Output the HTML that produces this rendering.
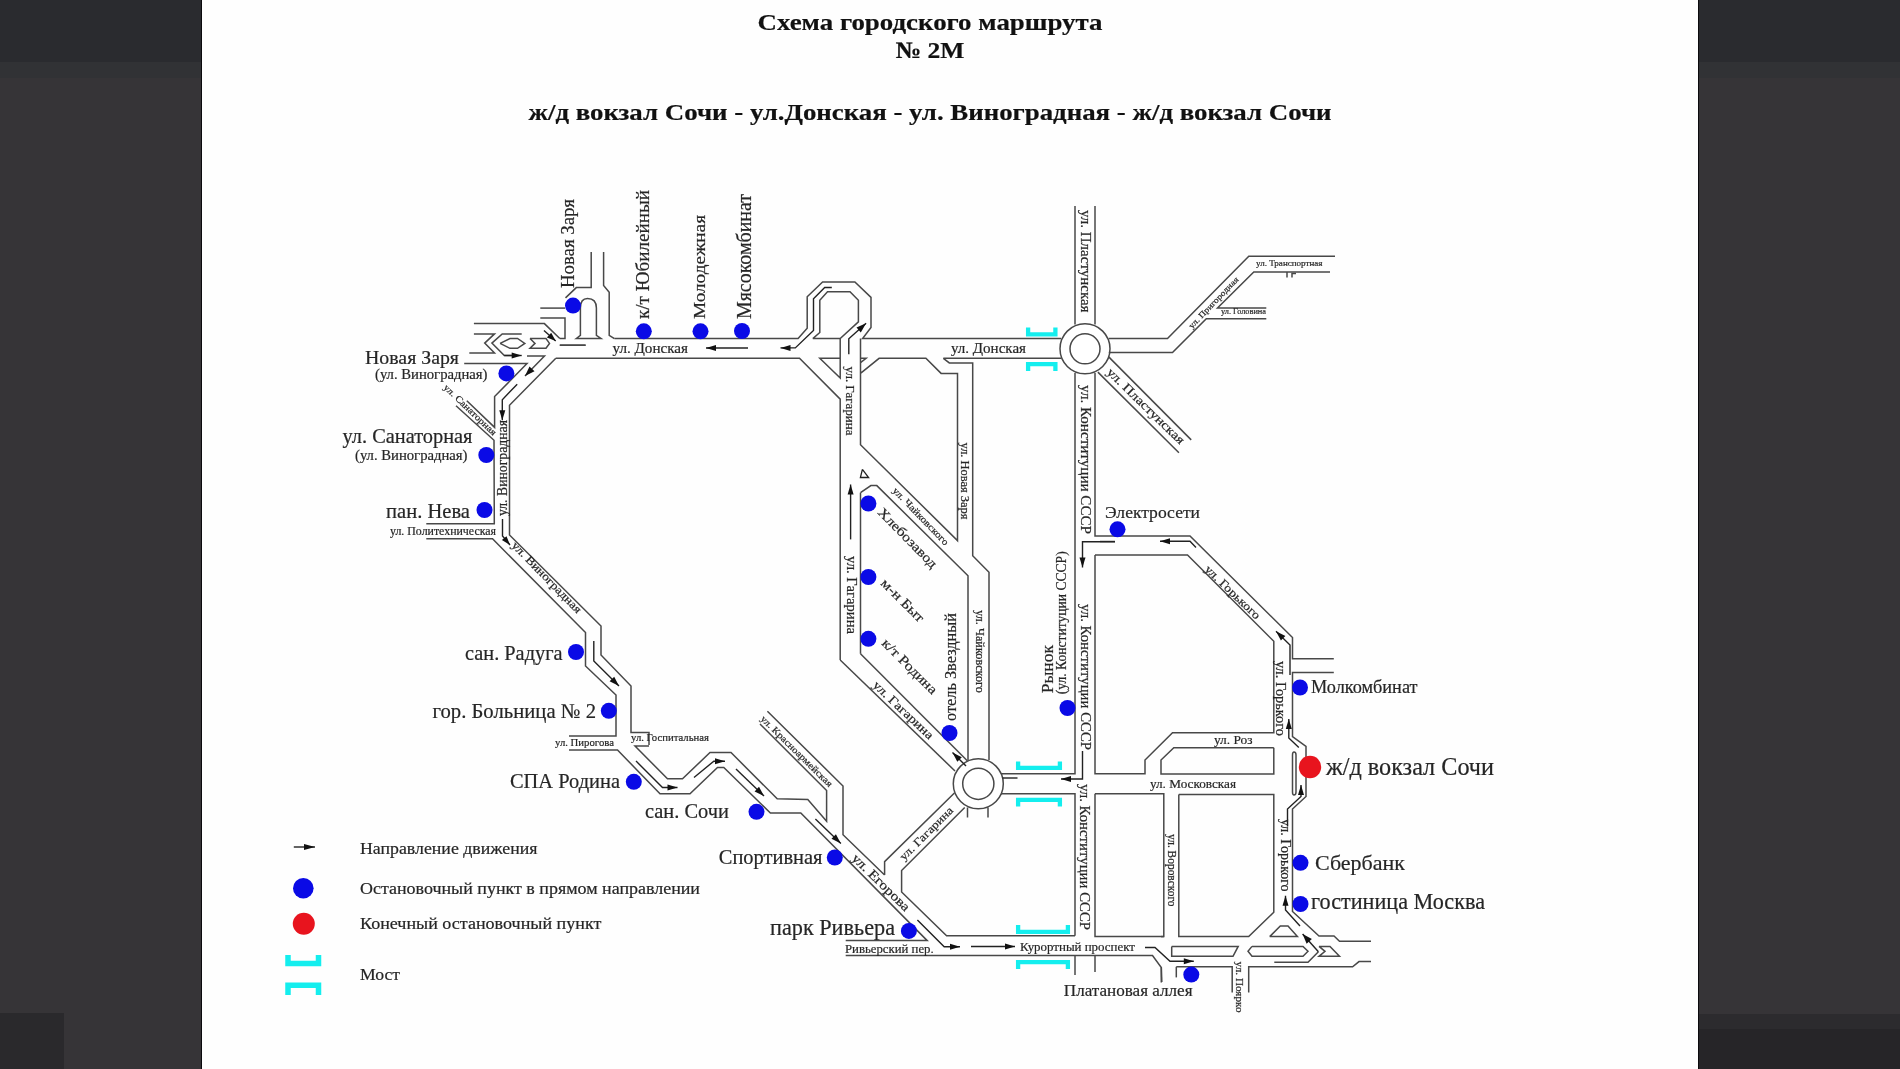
<!DOCTYPE html>
<html><head><meta charset="utf-8"><style>
html,body{margin:0;padding:0;width:1900px;height:1069px;overflow:hidden;background:#fff}
svg{position:absolute;left:0;top:0;filter:blur(0.4px)}
</style></head><body>
<svg width="1900" height="1069" viewBox="0 0 1900 1069">
<rect x="0" y="0" width="1900" height="1069" fill="#fefefe"/>
<rect x="0" y="0" width="201" height="1069" fill="#363437"/>
<rect x="0" y="0" width="201" height="62" fill="#2a2b2f"/>
<rect x="0" y="62" width="201" height="16" fill="#313235"/>
<rect x="1699" y="0" width="201" height="1069" fill="#363437"/>
<rect x="1699" y="0" width="201" height="62" fill="#2a2b2f"/>
<rect x="1699" y="62" width="201" height="16" fill="#313235"/>
<rect x="1699" y="1014" width="201" height="15" fill="#2c2b2e"/>
<rect x="1699" y="1029" width="201" height="40" fill="#262528"/>
<rect x="0" y="1013" width="64" height="56" fill="#2a292c"/>
<rect x="201" y="0" width="1" height="1069" fill="#0b0a0d"/>
<rect x="1698" y="0" width="1" height="1069" fill="#0b0a0d"/>
<text x="930" y="30" font-family="Liberation Serif, serif" font-size="23.5" font-weight="bold" fill="#111" text-anchor="middle" textLength="345" lengthAdjust="spacingAndGlyphs" stroke="#111" stroke-width="0.2">Схема городского маршрута</text>
<text x="930" y="58.4" font-family="Liberation Serif, serif" font-size="23.5" font-weight="bold" fill="#111" text-anchor="middle" textLength="69" lengthAdjust="spacingAndGlyphs" stroke="#111" stroke-width="0.2">№ 2М</text>
<text x="930" y="120" font-family="Liberation Serif, serif" font-size="23.5" font-weight="bold" fill="#111" text-anchor="middle" textLength="803" lengthAdjust="spacingAndGlyphs" stroke="#111" stroke-width="0.2">ж/д вокзал Сочи - ул.Донская - ул. Виноградная - ж/д вокзал Сочи</text>
<path d="M614.4 338.6 L798.1 338.6 L807.2 328.2 L807.2 296.7 L822.6 281.9 L854.9 281.9 L871.0 297.4 L871.0 327.5 L862.6 338.6 L1061.0 338.6" fill="none" stroke="#484848" stroke-width="1.5" stroke-linejoin="miter" />
<path d="M812.8 338.6 L819.8 332.5 L819.8 300.2 L827.5 291.8 L850.0 291.8 L858.4 300.2 L858.4 321.9 L840.2 338.6 L812.8 338.6" fill="none" stroke="#484848" stroke-width="1.5" stroke-linejoin="miter" />
<path d="M555.8 358.3 L799.5 358.3 L840.2 399.1 L840.2 660.0" fill="none" stroke="#484848" stroke-width="1.5" stroke-linejoin="miter" />
<path d="M840.2 358.3 L819.8 358.3 L840.2 378.0 L840.2 338.6" fill="none" stroke="#484848" stroke-width="1.5" stroke-linejoin="miter" />
<path d="M860.5 338.6 L860.5 373.4 L860.5 444.7 L957.5 540.6 L957.5 373.4 L941.1 373.4 L925.9 358.3 L879.1 358.3 L860.5 373.4" fill="none" stroke="#484848" stroke-width="1.5" stroke-linejoin="miter" />
<path d="M860.5 358.3 L866.1 358.3 L860.5 362.6" fill="none" stroke="#484848" stroke-width="1.5" stroke-linejoin="miter" />
<path d="M943.4 358.3 L949.3 362.9 L972.7 362.9 L972.7 555.8 L989.0 572.2 L989.0 760.0" fill="none" stroke="#484848" stroke-width="1.5" stroke-linejoin="miter" />
<path d="M943.4 358.3 L1061.0 358.3" fill="none" stroke="#484848" stroke-width="1.5" stroke-linejoin="miter" />
<path d="M591.2 252.0 L591.2 287.6 L576.3 287.6 L565.5 297.9" fill="none" stroke="#484848" stroke-width="1.5" stroke-linejoin="miter" />
<path d="M603.6 252.0 L603.6 285.5 L609.2 292.2 L609.2 335.4 L614.4 338.6" fill="none" stroke="#484848" stroke-width="1.5" stroke-linejoin="miter" />
<path d="M576.3 338.5 L580.4 335.4 L580.4 308 Q580.4 298.4 587.5 298.4 Q596.4 298.4 596.4 308 L596.4 335.4 L601 338.5 Z" fill="none" stroke="#484848" stroke-width="1.5" stroke-linejoin="miter" />
<path d="M540.3 308.1 L565.0 308.1" fill="none" stroke="#484848" stroke-width="1.5" stroke-linejoin="miter" />
<path d="M540.3 317.9 L565.0 317.9 L565.0 338.5 L559.8 338.5" fill="none" stroke="#484848" stroke-width="1.5" stroke-linejoin="miter" />
<path d="M473.9 323.6 L544.4 323.6 L559.8 338.5" fill="none" stroke="#484848" stroke-width="1.5" stroke-linejoin="miter" />
<path d="M559.8 345.2 L585.6 345.2" fill="none" stroke="#484848" stroke-width="1.5" stroke-linejoin="miter" />
<path d="M473.9 333.9 L494.5 333.9 L484.7 343.1 L494.5 352.9 L469.3 352.9" fill="none" stroke="#484848" stroke-width="1.5" stroke-linejoin="miter" />
<path d="M521.7 333.9 L502.2 333.9 L491.9 343.1 L504.3 355.5 L512.0 355.5" fill="none" stroke="#484848" stroke-width="1.5" stroke-linejoin="miter" />
<path d="M500.1 343.4 L510.0 338.5 L517.5 338.5 L524.8 343.4 L517.5 348.3 L510.0 348.3 L500.1 343.4" fill="none" stroke="#484848" stroke-width="1.5" stroke-linejoin="miter" />
<path d="M530.0 338.5 L546.0 338.5 L549.5 343.4 L546.0 348.3 L530.0 348.3 L535.0 343.4 L530.0 338.5" fill="none" stroke="#484848" stroke-width="1.5" stroke-linejoin="miter" />
<path d="M527.0 356.0 L544.5 356.0 L525.0 376.0" fill="none" stroke="#484848" stroke-width="1.5" stroke-linejoin="miter" />
<path d="M555.8 358.3 L509.5 405.3 L509.5 535.0 L601.0 626.0 L601.0 655.0 L631.0 686.0 L631.0 732.5 L649.0 732.5 L649.0 745.0" fill="none" stroke="#484848" stroke-width="1.5" stroke-linejoin="miter" />
<path d="M464.2 363.5 L527.0 363.5 L494.6 396.6 L494.6 427.4 L466.8 400.7" fill="none" stroke="#484848" stroke-width="1.5" stroke-linejoin="miter" />
<path d="M456.0 405.8 L494.0 440.3 L494.3 523.8 L426.3 523.8" fill="none" stroke="#484848" stroke-width="1.5" stroke-linejoin="miter" />
<path d="M426.3 538.8 L492.5 538.8 L585.5 632.5 L585.5 666.0 L616.0 695.0 L616.0 736.0 L569.0 736.0" fill="none" stroke="#484848" stroke-width="1.5" stroke-linejoin="miter" />
<path d="M569.0 750.0 L617.5 750.0 L660.0 793.8 L690.0 793.8 L717.5 767.5 L723.8 767.5 L770.4 813.0 L800.8 813.0 L927.2 940.6 L845.7 940.6" fill="none" stroke="#484848" stroke-width="1.5" stroke-linejoin="miter" />
<path d="M649.0 746.0 L635.0 746.0 L667.5 778.8 L682.5 778.8 L710.0 752.5 L731.0 752.5 L777.2 798.8 L807.8 799.5 L826.6 821.2 L826.6 790.5 L760.0 724.0" fill="none" stroke="#484848" stroke-width="1.5" stroke-linejoin="miter" />
<path d="M767.4 711.2 L843.0 786.0 L843.0 834.7 L884.6 875.0" fill="none" stroke="#484848" stroke-width="1.5" stroke-linejoin="miter" />
<path d="M954.4 793.0 L884.6 861.6 L884.6 875.0" fill="none" stroke="#484848" stroke-width="1.5" stroke-linejoin="miter" />
<path d="M964.7 807.5 L901.6 870.5 L901.6 892.0 L946.6 935.8 L1075.0 935.8" fill="none" stroke="#484848" stroke-width="1.5" stroke-linejoin="miter" />
<path d="M845.7 955.5 L1152.5 955.5 L1161.3 967.5 L1161.3 982.5" fill="none" stroke="#484848" stroke-width="1.5" stroke-linejoin="miter" />
<path d="M840.2 660.0 L955.0 771.0" fill="none" stroke="#484848" stroke-width="1.5" stroke-linejoin="miter" />
<path d="M860.5 653.8 L967.5 761.0" fill="none" stroke="#484848" stroke-width="1.5" stroke-linejoin="miter" />
<path d="M860.5 492.7 L860.5 653.8" fill="none" stroke="#484848" stroke-width="1.5" stroke-linejoin="miter" />
<path d="M860.5 492.7 L870.9 485.6 L876.8 485.6 L968.0 575.7 L968.0 760.0" fill="none" stroke="#484848" stroke-width="1.5" stroke-linejoin="miter" />
<path d="M967.5 807.5 L967.5 817.5" fill="none" stroke="#484848" stroke-width="1.5" stroke-linejoin="miter" />
<path d="M988.0 807.5 L988.0 817.5" fill="none" stroke="#484848" stroke-width="1.5" stroke-linejoin="miter" />
<circle cx="1085" cy="348.8" r="25" fill="#fff" stroke="#484848" stroke-width="1.5"/>
<circle cx="1085" cy="348.8" r="15" fill="none" stroke="#484848" stroke-width="1.5"/>
<circle cx="978.3" cy="783.8" r="25" fill="#fff" stroke="#484848" stroke-width="1.5"/>
<circle cx="978.3" cy="783.8" r="15.6" fill="none" stroke="#484848" stroke-width="1.5"/>
<path d="M1075.0 206.0 L1075.0 324.5" fill="none" stroke="#484848" stroke-width="1.5" stroke-linejoin="miter" />
<path d="M1095.0 206.0 L1095.0 324.5" fill="none" stroke="#484848" stroke-width="1.5" stroke-linejoin="miter" />
<path d="M1075.0 373.0 L1075.0 773.8 L1001.0 773.8" fill="none" stroke="#484848" stroke-width="1.5" stroke-linejoin="miter" />
<path d="M1095.0 373.0 L1095.0 536.0 L1190.0 536.0 L1292.5 637.5 L1292.5 658.8 L1333.8 658.8" fill="none" stroke="#484848" stroke-width="1.5" stroke-linejoin="miter" />
<path d="M1095.0 555.0 L1187.5 555.0 L1273.8 641.3 L1273.8 732.7 L1172.5 732.7 L1145.0 760.0 L1145.0 773.8 L1095.0 773.8 L1095.0 555.0" fill="none" stroke="#484848" stroke-width="1.5" stroke-linejoin="miter" />
<path d="M1333.8 672.5 L1292.5 672.5 L1292.5 736.5 L1306.0 746.5 L1306.0 796.5 L1292.5 809.0 L1292.5 911.5 L1319.0 936.0 L1334.0 936.0 L1339.5 941.2 L1371.0 941.2" fill="none" stroke="#484848" stroke-width="1.5" stroke-linejoin="miter" />
<path d="M1273.8 747.7 L1173.8 747.7 L1161.0 760.0 L1161.0 774.0 L1273.8 774.0 L1273.8 747.7" fill="none" stroke="#484848" stroke-width="1.5" stroke-linejoin="miter" />
<path d="M1001.0 793.8 L1075.0 793.8 L1075.0 935.8" fill="none" stroke="#484848" stroke-width="1.5" stroke-linejoin="miter" />
<path d="M1095.0 793.8 L1163.8 793.8 L1163.8 936.6 L1095.0 936.6 L1095.0 793.8" fill="none" stroke="#484848" stroke-width="1.5" stroke-linejoin="miter" />
<path d="M1178.8 794.5 L1273.8 794.5 L1273.8 912.2 L1248.7 936.6 L1178.8 936.6 L1178.8 794.5" fill="none" stroke="#484848" stroke-width="1.5" stroke-linejoin="miter" />
<path d="M1075.0 955.5 L1075.0 975.0" fill="none" stroke="#484848" stroke-width="1.5" stroke-linejoin="miter" />
<path d="M1095.0 955.5 L1095.0 972.0" fill="none" stroke="#484848" stroke-width="1.5" stroke-linejoin="miter" />
<path d="M1292.5 755 Q1292.5 752 1294 752 Q1296 752 1296 755 L1296 792 Q1296 795 1294 795 Q1292.5 795 1292.5 792 Z" fill="none" stroke="#484848" stroke-width="1.5" stroke-linejoin="miter" />
<path d="M1108.8 338.5 L1167.5 338.5 L1248.8 256.3 L1335.0 256.3" fill="none" stroke="#484848" stroke-width="1.5" stroke-linejoin="miter" />
<path d="M1108.8 352.5 L1172.5 352.5 L1206.3 318.8 L1266.3 318.8" fill="none" stroke="#484848" stroke-width="1.5" stroke-linejoin="miter" />
<path d="M1266.3 308.0 L1217.5 308.0 L1253.8 272.0 L1330.0 272.0" fill="none" stroke="#484848" stroke-width="1.5" stroke-linejoin="miter" />
<path d="M1287.0 272.0 L1287.0 277.5" fill="none" stroke="#484848" stroke-width="1.5" stroke-linejoin="miter" />
<path d="M1292.0 277.5 L1292.0 273.5 L1296.0 273.5" fill="none" stroke="#484848" stroke-width="1.5" stroke-linejoin="miter" />
<path d="M1108.7 356.9 L1191.2 439.9" fill="none" stroke="#484848" stroke-width="1.5" stroke-linejoin="miter" />
<path d="M1097.9 372.1 L1178.9 452.7" fill="none" stroke="#484848" stroke-width="1.5" stroke-linejoin="miter" />
<path d="M1163.8 936.6 L1161.0 936.6" fill="none" stroke="#484848" stroke-width="1.5" stroke-linejoin="miter" />
<path d="M1171.7 946.4 L1238.2 946.4 L1233.0 956.3 L1171.7 956.3 L1171.7 946.4" fill="none" stroke="#484848" stroke-width="1.5" stroke-linejoin="miter" />
<path d="M1252.0 946.4 L1303.0 946.4 L1308.0 951.3 L1303.0 956.3 L1252.0 956.3 L1248.0 951.3 L1252.0 946.4" fill="none" stroke="#484848" stroke-width="1.5" stroke-linejoin="miter" />
<path d="M1319.0 946.4 L1330.0 946.4 L1339.5 956.3 L1319.0 956.3 L1325.0 951.3 L1319.0 946.4" fill="none" stroke="#484848" stroke-width="1.5" stroke-linejoin="miter" />
<path d="M1269.7 936.6 L1280.3 926.0 L1288.0 926.0 L1297.4 936.6 L1269.7 936.6" fill="none" stroke="#484848" stroke-width="1.5" stroke-linejoin="miter" />
<path d="M1274.3 962.2 L1308.0 962.2 L1318.4 951.7" fill="none" stroke="#484848" stroke-width="1.5" stroke-linejoin="miter" />
<path d="M1176.3 966.8 L1232.2 966.8 L1232.2 992.5" fill="none" stroke="#484848" stroke-width="1.5" stroke-linejoin="miter" />
<path d="M1248.7 992.5 L1248.7 966.8 L1352.6 966.8 L1359.0 961.6 L1371.0 961.6" fill="none" stroke="#484848" stroke-width="1.5" stroke-linejoin="miter" />
<path d="M1161.3 967.5 L1161.8 982.0" fill="none" stroke="#484848" stroke-width="1.5" stroke-linejoin="miter" />
<path d="M1176.3 966.8 L1176.3 977.4" fill="none" stroke="#484848" stroke-width="1.5" stroke-linejoin="miter" />
<path d="M293.8 847.0 L315.0 847.0" fill="none" stroke="#222" stroke-width="1.4" stroke-linejoin="miter" />
<path d="M315.0 847.0 L304.0 850.0 L304.0 844.0 Z" fill="#111"/>
<path d="M544.0 330.5 L555.7 341.1" fill="none" stroke="#222" stroke-width="1.4" stroke-linejoin="miter" />
<path d="M555.7 341.1 L546.9 337.4 L551.2 332.7 Z" fill="#111"/>
<path d="M504.3 355.5 L521.7 355.5" fill="none" stroke="#222" stroke-width="1.4" stroke-linejoin="miter" />
<path d="M521.7 355.5 L511.7 358.5 L511.7 352.5 Z" fill="#111"/>
<path d="M525.0 376.0 L529.5 366.4 L534.5 371.3 Z" fill="#111"/>
<path d="M517.2 384.2 L502.3 399.7 L502.3 420.2" fill="none" stroke="#222" stroke-width="1.4" stroke-linejoin="miter" />
<path d="M502.3 420.2 L499.3 410.2 L505.3 410.2 Z" fill="#111"/>
<path d="M502.5 519.0 L502.5 536.0 L510.0 545.0" fill="none" stroke="#222" stroke-width="1.4" stroke-linejoin="miter" />
<path d="M510.0 545.0 L501.9 540.0 L506.5 536.2 Z" fill="#111"/>
<path d="M593.8 641.0 L593.8 661.0 L619.0 686.0" fill="none" stroke="#222" stroke-width="1.4" stroke-linejoin="miter" />
<path d="M619.0 686.0 L609.6 681.2 L614.2 676.7 Z" fill="#111"/>
<path d="M636.0 761.0 L662.5 787.5 L677.5 787.5" fill="none" stroke="#222" stroke-width="1.4" stroke-linejoin="miter" />
<path d="M677.5 787.5 L667.5 790.5 L667.5 784.5 Z" fill="#111"/>
<path d="M694.0 777.5 L713.8 761.3 L725.0 761.3" fill="none" stroke="#222" stroke-width="1.4" stroke-linejoin="miter" />
<path d="M725.0 761.3 L715.0 764.3 L715.0 758.3 Z" fill="#111"/>
<path d="M736.0 769.0 L764.0 796.0" fill="none" stroke="#222" stroke-width="1.4" stroke-linejoin="miter" />
<path d="M764.0 796.0 L754.6 791.4 L759.0 786.8 Z" fill="#111"/>
<path d="M815.4 819.1 L840.9 843.4" fill="none" stroke="#222" stroke-width="1.4" stroke-linejoin="miter" />
<path d="M840.9 843.4 L831.5 838.8 L835.9 834.2 Z" fill="#111"/>
<path d="M917.4 920.0 L944.2 946.7 L960.0 946.7" fill="none" stroke="#222" stroke-width="1.4" stroke-linejoin="miter" />
<path d="M960.0 946.7 L950.0 949.7 L950.0 943.7 Z" fill="#111"/>
<path d="M971.0 946.5 L1015.0 946.5" fill="none" stroke="#222" stroke-width="1.4" stroke-linejoin="miter" />
<path d="M1015.0 946.5 L1005.0 949.5 L1005.0 943.5 Z" fill="#111"/>
<path d="M1145.0 947.5 L1155.0 947.5 L1170.0 961.3 L1193.8 961.3" fill="none" stroke="#222" stroke-width="1.4" stroke-linejoin="miter" />
<path d="M1193.8 961.3 L1183.8 964.3 L1183.8 958.3 Z" fill="#111"/>
<path d="M1318.4 951.7 L1302.6 934.0" fill="none" stroke="#222" stroke-width="1.4" stroke-linejoin="miter" />
<path d="M1302.6 934.0 L1311.9 939.1 L1306.6 943.8 Z" fill="#111"/>
<path d="M1300.0 926.0 L1285.5 910.0 L1285.5 895.8" fill="none" stroke="#222" stroke-width="1.4" stroke-linejoin="miter" />
<path d="M1285.5 895.8 L1288.5 905.8 L1282.5 905.8 Z" fill="#111"/>
<path d="M1287.5 826.5 L1287.5 809.0 L1301.0 796.5 L1301.0 785.0" fill="none" stroke="#222" stroke-width="1.4" stroke-linejoin="miter" />
<path d="M1301.0 785.0 L1304.0 795.0 L1298.0 795.0 Z" fill="#111"/>
<path d="M1298.8 747.5 L1288.8 738.0 L1288.8 719.0" fill="none" stroke="#222" stroke-width="1.4" stroke-linejoin="miter" />
<path d="M1288.8 719.0 L1291.8 729.0 L1285.8 729.0 Z" fill="#111"/>
<path d="M1290.0 675.0 L1290.0 645.0 L1276.0 631.3" fill="none" stroke="#222" stroke-width="1.4" stroke-linejoin="miter" />
<path d="M1276.0 631.3 L1285.4 636.0 L1280.9 640.6 Z" fill="#111"/>
<path d="M1196.0 547.5 L1190.0 541.3 L1160.0 541.3" fill="none" stroke="#222" stroke-width="1.4" stroke-linejoin="miter" />
<path d="M1160.0 541.3 L1170.0 538.3 L1170.0 544.3 Z" fill="#111"/>
<path d="M1100.0 541.5 L1115.0 541.5" fill="none" stroke="#222" stroke-width="1.4" stroke-linejoin="miter" />
<path d="M1115.0 541.8 L1082.5 541.8 L1082.5 567.5" fill="none" stroke="#222" stroke-width="1.4" stroke-linejoin="miter" />
<path d="M1082.5 567.5 L1079.5 557.5 L1085.5 557.5 Z" fill="#111"/>
<path d="M1082.5 751.0 L1082.5 779.0 L1061.0 779.0" fill="none" stroke="#222" stroke-width="1.4" stroke-linejoin="miter" />
<path d="M1061.0 779.0 L1071.0 776.0 L1071.0 782.0 Z" fill="#111"/>
<path d="M1002.5 778.0 L1017.5 778.0" fill="none" stroke="#222" stroke-width="1.4" stroke-linejoin="miter" />
<path d="M966.0 766.0 L952.5 752.5" fill="none" stroke="#222" stroke-width="1.4" stroke-linejoin="miter" />
<path d="M952.5 752.5 L961.8 757.3 L957.3 761.8 Z" fill="#111"/>
<path d="M850.6 539.4 L850.6 484.5" fill="none" stroke="#222" stroke-width="1.4" stroke-linejoin="miter" />
<path d="M850.6 484.5 L853.6 494.5 L847.6 494.5 Z" fill="#111"/>
<path d="M862.4 469.3 L868.6 477.5 L860.4 477.5 L862.4 469.3" fill="none" stroke="#222" stroke-width="1.3" stroke-linejoin="miter" />
<path d="M848.8 354.2 L848.8 338.8 L866.1 323.3" fill="none" stroke="#222" stroke-width="1.4" stroke-linejoin="miter" />
<path d="M866.1 323.3 L860.8 332.4 L856.5 327.6 Z" fill="#111"/>
<path d="M831.8 287.5 L824.7 287.5 L813.5 298.8 L813.5 330.4 L795.3 347.9 L780.5 347.9" fill="none" stroke="#222" stroke-width="1.4" stroke-linejoin="miter" />
<path d="M780.5 347.9 L790.5 344.9 L790.5 350.9 Z" fill="#111"/>
<path d="M748.0 348.0 L706.0 348.0" fill="none" stroke="#222" stroke-width="1.4" stroke-linejoin="miter" />
<path d="M706.0 348.0 L716.0 345.0 L716.0 351.0 Z" fill="#111"/>
<path d="M559.8 345.2 L585.6 345.2" fill="none" stroke="#484848" stroke-width="1.5" stroke-linejoin="miter" />
<circle cx="573" cy="305.6" r="8" fill="#0a0ae6"/>
<circle cx="643.8" cy="331.3" r="8" fill="#0a0ae6"/>
<circle cx="700.5" cy="331.3" r="8" fill="#0a0ae6"/>
<circle cx="742" cy="331" r="8" fill="#0a0ae6"/>
<circle cx="506.4" cy="373.4" r="8" fill="#0a0ae6"/>
<circle cx="486.3" cy="455" r="8" fill="#0a0ae6"/>
<circle cx="484.5" cy="510" r="8" fill="#0a0ae6"/>
<circle cx="576" cy="652" r="8" fill="#0a0ae6"/>
<circle cx="608.8" cy="710.8" r="8" fill="#0a0ae6"/>
<circle cx="633.8" cy="781.8" r="8" fill="#0a0ae6"/>
<circle cx="756.5" cy="811.8" r="8" fill="#0a0ae6"/>
<circle cx="834.8" cy="857.5" r="8" fill="#0a0ae6"/>
<circle cx="908.9" cy="930.9" r="8" fill="#0a0ae6"/>
<circle cx="868.4" cy="503.5" r="8" fill="#0a0ae6"/>
<circle cx="868.4" cy="577" r="8" fill="#0a0ae6"/>
<circle cx="868.4" cy="638.8" r="8" fill="#0a0ae6"/>
<circle cx="949.5" cy="733" r="8" fill="#0a0ae6"/>
<circle cx="1067.5" cy="708" r="8" fill="#0a0ae6"/>
<circle cx="1117.5" cy="529.3" r="8" fill="#0a0ae6"/>
<circle cx="1300" cy="687.5" r="8" fill="#0a0ae6"/>
<circle cx="1300.5" cy="862.8" r="8" fill="#0a0ae6"/>
<circle cx="1300.5" cy="904" r="8" fill="#0a0ae6"/>
<circle cx="1191.3" cy="974.6" r="8" fill="#0a0ae6"/>
<circle cx="303.3" cy="888.3" r="10.3" fill="#0a0ae6"/>
<circle cx="1310" cy="767" r="11.2" fill="#e8141e"/>
<circle cx="303.8" cy="923.8" r="11" fill="#e8141e"/>
<path d="M1028.1 327.5 L1028.1 334.3 L1055.4 334.3 L1055.4 327.5" fill="none" stroke="#14eeee" stroke-width="4.3"/>
<path d="M1028.1 371 L1028.1 364.2 L1055.4 364.2 L1055.4 371" fill="none" stroke="#14eeee" stroke-width="4.3"/>
<path d="M1018.1 761.5 L1018.1 767.8 L1059.9 767.8 L1059.9 761.5" fill="none" stroke="#14eeee" stroke-width="4.3"/>
<path d="M1018.1 806.6 L1018.1 799.8 L1059.9 799.8 L1059.9 806.6" fill="none" stroke="#14eeee" stroke-width="4.3"/>
<path d="M1018.1 925 L1018.1 931.8 L1067.9 931.8 L1067.9 925" fill="none" stroke="#14eeee" stroke-width="4.3"/>
<path d="M1018.1 969 L1018.1 962.2 L1067.9 962.2 L1067.9 969" fill="none" stroke="#14eeee" stroke-width="4.3"/>
<path d="M288 955 L288 963.5 L318.5 963.5 L318.5 955" fill="none" stroke="#14eeee" stroke-width="5.5"/>
<path d="M288 995 L288 985.3 L318.5 985.3 L318.5 995" fill="none" stroke="#14eeee" stroke-width="5.5"/>
<text x="365" y="364" font-family="Liberation Serif, serif" font-size="19.83" font-weight="normal" fill="#262626" text-anchor="start" textLength="94" lengthAdjust="spacingAndGlyphs" stroke="#262626" stroke-width="0.2">Новая Заря</text>
<text x="375" y="378.5" font-family="Liberation Serif, serif" font-size="14.69" font-weight="normal" fill="#262626" text-anchor="start" textLength="112.5" lengthAdjust="spacingAndGlyphs" stroke="#262626" stroke-width="0.2">(ул. Виноградная)</text>
<text x="342.5" y="443" font-family="Liberation Serif, serif" font-size="20.37" font-weight="normal" fill="#262626" text-anchor="start" textLength="130" lengthAdjust="spacingAndGlyphs" stroke="#262626" stroke-width="0.2">ул. Санаторная</text>
<text x="355" y="460" font-family="Liberation Serif, serif" font-size="14.69" font-weight="normal" fill="#262626" text-anchor="start" textLength="112.5" lengthAdjust="spacingAndGlyphs" stroke="#262626" stroke-width="0.2">(ул. Виноградная)</text>
<text x="386" y="517.5" font-family="Liberation Serif, serif" font-size="20.57" font-weight="normal" fill="#262626" text-anchor="start" textLength="84" lengthAdjust="spacingAndGlyphs" stroke="#262626" stroke-width="0.2">пан. Нева</text>
<text x="390" y="535" font-family="Liberation Serif, serif" font-size="11.87" font-weight="normal" fill="#262626" text-anchor="start" textLength="106" lengthAdjust="spacingAndGlyphs" stroke="#262626" stroke-width="0.2">ул. Политехническая</text>
<text x="465" y="659.5" font-family="Liberation Serif, serif" font-size="20.32" font-weight="normal" fill="#262626" text-anchor="start" textLength="97.5" lengthAdjust="spacingAndGlyphs" stroke="#262626" stroke-width="0.2">сан. Радуга</text>
<text x="432.5" y="718" font-family="Liberation Serif, serif" font-size="20.68" font-weight="normal" fill="#262626" text-anchor="start" textLength="163.5" lengthAdjust="spacingAndGlyphs" stroke="#262626" stroke-width="0.2">гор. Больница № 2</text>
<text x="555" y="746" font-family="Liberation Serif, serif" font-size="10.73" font-weight="normal" fill="#262626" text-anchor="start" textLength="59" lengthAdjust="spacingAndGlyphs" stroke="#262626" stroke-width="0.2">ул. Пирогова</text>
<text x="631" y="741" font-family="Liberation Serif, serif" font-size="10.71" font-weight="normal" fill="#262626" text-anchor="start" textLength="78" lengthAdjust="spacingAndGlyphs" stroke="#262626" stroke-width="0.2">ул. Госпитальная</text>
<text x="510" y="787.5" font-family="Liberation Serif, serif" font-size="20.42" font-weight="normal" fill="#262626" text-anchor="start" textLength="110" lengthAdjust="spacingAndGlyphs" stroke="#262626" stroke-width="0.2">СПА Родина</text>
<text x="645" y="817.5" font-family="Liberation Serif, serif" font-size="20.42" font-weight="normal" fill="#262626" text-anchor="start" textLength="84" lengthAdjust="spacingAndGlyphs" stroke="#262626" stroke-width="0.2">сан. Сочи</text>
<text x="718.8" y="863.8" font-family="Liberation Serif, serif" font-size="20.44" font-weight="normal" fill="#262626" text-anchor="start" textLength="103.7" lengthAdjust="spacingAndGlyphs" stroke="#262626" stroke-width="0.2">Спортивная</text>
<text x="770" y="935" font-family="Liberation Serif, serif" font-size="22.23" font-weight="normal" fill="#262626" text-anchor="start" textLength="125" lengthAdjust="spacingAndGlyphs" stroke="#262626" stroke-width="0.2">парк Ривьера</text>
<text x="845" y="952.5" font-family="Liberation Serif, serif" font-size="12.78" font-weight="normal" fill="#262626" text-anchor="start" textLength="88.7" lengthAdjust="spacingAndGlyphs" stroke="#262626" stroke-width="0.2">Ривьерский пер.</text>
<text x="1020" y="950.5" font-family="Liberation Serif, serif" font-size="12.92" font-weight="normal" fill="#262626" text-anchor="start" textLength="115" lengthAdjust="spacingAndGlyphs" stroke="#262626" stroke-width="0.2">Курортный проспект</text>
<text x="1063.8" y="996.3" font-family="Liberation Serif, serif" font-size="17.08" font-weight="normal" fill="#262626" text-anchor="start" textLength="128.7" lengthAdjust="spacingAndGlyphs" stroke="#262626" stroke-width="0.2">Платановая аллея</text>
<text x="612.5" y="352.5" font-family="Liberation Serif, serif" font-size="15.13" font-weight="normal" fill="#262626" text-anchor="start" textLength="75.5" lengthAdjust="spacingAndGlyphs" stroke="#262626" stroke-width="0.2">ул. Донская</text>
<text x="951" y="352.5" font-family="Liberation Serif, serif" font-size="15.03" font-weight="normal" fill="#262626" text-anchor="start" textLength="75" lengthAdjust="spacingAndGlyphs" stroke="#262626" stroke-width="0.2">ул. Донская</text>
<text x="1105" y="517.5" font-family="Liberation Serif, serif" font-size="17.56" font-weight="normal" fill="#262626" text-anchor="start" textLength="95" lengthAdjust="spacingAndGlyphs" stroke="#262626" stroke-width="0.2">Электросети</text>
<text x="1311" y="693.3" font-family="Liberation Serif, serif" font-size="18.26" font-weight="normal" fill="#262626" text-anchor="start" textLength="106.5" lengthAdjust="spacingAndGlyphs" stroke="#262626" stroke-width="0.2">Молкомбинат</text>
<text x="1214" y="744" font-family="Liberation Serif, serif" font-size="13.36" font-weight="normal" fill="#262626" text-anchor="start" textLength="38.5" lengthAdjust="spacingAndGlyphs" stroke="#262626" stroke-width="0.2">ул. Роз</text>
<text x="1150" y="788" font-family="Liberation Serif, serif" font-size="13.21" font-weight="normal" fill="#262626" text-anchor="start" textLength="86" lengthAdjust="spacingAndGlyphs" stroke="#262626" stroke-width="0.2">ул. Московская</text>
<text x="1326" y="775.3" font-family="Liberation Serif, serif" font-size="24.2" font-weight="normal" fill="#262626" text-anchor="start" textLength="168" lengthAdjust="spacingAndGlyphs" stroke="#262626" stroke-width="0.2">ж/д вокзал Сочи</text>
<text x="1315" y="870.3" font-family="Liberation Serif, serif" font-size="21.99" font-weight="normal" fill="#262626" text-anchor="start" textLength="90" lengthAdjust="spacingAndGlyphs" stroke="#262626" stroke-width="0.2">Сбербанк</text>
<text x="1311" y="909" font-family="Liberation Serif, serif" font-size="22.17" font-weight="normal" fill="#262626" text-anchor="start" textLength="174" lengthAdjust="spacingAndGlyphs" stroke="#262626" stroke-width="0.2">гостиница Москва</text>
<text x="1256" y="266" font-family="Liberation Serif, serif" font-size="9.05" font-weight="normal" fill="#262626" text-anchor="start" textLength="66.5" lengthAdjust="spacingAndGlyphs" stroke="#262626" stroke-width="0.2">ул. Транспортная</text>
<text x="1221" y="314" font-family="Liberation Serif, serif" font-size="8.31" font-weight="normal" fill="#262626" text-anchor="start" textLength="45" lengthAdjust="spacingAndGlyphs" stroke="#262626" stroke-width="0.2">ул. Головина</text>
<text x="360" y="853.8" font-family="Liberation Serif, serif" font-size="16.03" font-weight="normal" fill="#262626" text-anchor="start" textLength="177.5" lengthAdjust="spacingAndGlyphs" stroke="#262626" stroke-width="0.2">Направление движения</text>
<text x="360" y="893.8" font-family="Liberation Serif, serif" font-size="16.17" font-weight="normal" fill="#262626" text-anchor="start" textLength="340" lengthAdjust="spacingAndGlyphs" stroke="#262626" stroke-width="0.2">Остановочный пункт в прямом направлении</text>
<text x="360" y="929.3" font-family="Liberation Serif, serif" font-size="16.23" font-weight="normal" fill="#262626" text-anchor="start" textLength="241.3" lengthAdjust="spacingAndGlyphs" stroke="#262626" stroke-width="0.2">Конечный остановочный пункт</text>
<text x="360" y="980" font-family="Liberation Serif, serif" font-size="15.86" font-weight="normal" fill="#262626" text-anchor="start" textLength="40" lengthAdjust="spacingAndGlyphs" stroke="#262626" stroke-width="0.2">Мост</text>
<text transform="translate(573.5,288) rotate(-90)" x="0" y="0" font-family="Liberation Serif, serif" font-size="18.78" font-weight="normal" fill="#262626" text-anchor="start" textLength="89" lengthAdjust="spacingAndGlyphs" stroke="#262626" stroke-width="0.2">Новая Заря</text>
<text transform="translate(649,319) rotate(-90)" x="0" y="0" font-family="Liberation Serif, serif" font-size="19.13" font-weight="normal" fill="#262626" text-anchor="start" textLength="129" lengthAdjust="spacingAndGlyphs" stroke="#262626" stroke-width="0.2">к/т Юбилейный</text>
<text transform="translate(705,319) rotate(-90)" x="0" y="0" font-family="Liberation Serif, serif" font-size="16.36" font-weight="normal" fill="#262626" text-anchor="start" textLength="104" lengthAdjust="spacingAndGlyphs" stroke="#262626" stroke-width="0.2">Молодежная</text>
<text transform="translate(751,319) rotate(-90)" x="0" y="0" font-family="Liberation Serif, serif" font-size="19.92" font-weight="normal" fill="#262626" text-anchor="start" textLength="125" lengthAdjust="spacingAndGlyphs" stroke="#262626" stroke-width="0.2">Мясокомбинат</text>
<text transform="translate(507,516) rotate(-90)" x="0" y="0" font-family="Liberation Serif, serif" font-size="13.73" font-weight="normal" fill="#262626" text-anchor="start" textLength="96" lengthAdjust="spacingAndGlyphs" stroke="#262626" stroke-width="0.2">ул. Виноградная</text>
<text transform="translate(956.3,721) rotate(-90)" x="0" y="0" font-family="Liberation Serif, serif" font-size="16.3" font-weight="normal" fill="#262626" text-anchor="start" textLength="108" lengthAdjust="spacingAndGlyphs" stroke="#262626" stroke-width="0.2">отель Звездный</text>
<text transform="translate(1053,693.3) rotate(-90)" x="0" y="0" font-family="Liberation Serif, serif" font-size="17.57" font-weight="normal" fill="#262626" text-anchor="start" textLength="48.3" lengthAdjust="spacingAndGlyphs" stroke="#262626" stroke-width="0.2">Рынок</text>
<text transform="translate(1066,694.3) rotate(-90)" x="0" y="0" font-family="Liberation Serif, serif" font-size="13.59" font-weight="normal" fill="#262626" text-anchor="start" textLength="143" lengthAdjust="spacingAndGlyphs" stroke="#262626" stroke-width="0.2">(ул. Конституции СССР)</text>
<text transform="translate(1080.5,210) rotate(90)" x="0" y="0" font-family="Liberation Serif, serif" font-size="14.98" font-weight="normal" fill="#262626" text-anchor="start" textLength="102.5" lengthAdjust="spacingAndGlyphs" stroke="#262626" stroke-width="0.2">ул. Пластунская</text>
<text transform="translate(1080.5,385) rotate(90)" x="0" y="0" font-family="Liberation Serif, serif" font-size="15.11" font-weight="normal" fill="#262626" text-anchor="start" textLength="149" lengthAdjust="spacingAndGlyphs" stroke="#262626" stroke-width="0.2">ул. Конституции СССР</text>
<text transform="translate(1080.5,604) rotate(90)" x="0" y="0" font-family="Liberation Serif, serif" font-size="14.81" font-weight="normal" fill="#262626" text-anchor="start" textLength="146" lengthAdjust="spacingAndGlyphs" stroke="#262626" stroke-width="0.2">ул. Конституции СССР</text>
<text transform="translate(1079.5,784) rotate(90)" x="0" y="0" font-family="Liberation Serif, serif" font-size="14.81" font-weight="normal" fill="#262626" text-anchor="start" textLength="146" lengthAdjust="spacingAndGlyphs" stroke="#262626" stroke-width="0.2">ул. Конституции СССР</text>
<text transform="translate(960.5,442.5) rotate(90)" x="0" y="0" font-family="Liberation Serif, serif" font-size="12.43" font-weight="normal" fill="#262626" text-anchor="start" textLength="77" lengthAdjust="spacingAndGlyphs" stroke="#262626" stroke-width="0.2">ул. Новая Заря</text>
<text transform="translate(846,366.5) rotate(90)" x="0" y="0" font-family="Liberation Serif, serif" font-size="12.97" font-weight="normal" fill="#262626" text-anchor="start" textLength="69" lengthAdjust="spacingAndGlyphs" stroke="#262626" stroke-width="0.2">ул. Гагарина</text>
<text transform="translate(846.5,556) rotate(90)" x="0" y="0" font-family="Liberation Serif, serif" font-size="14.66" font-weight="normal" fill="#262626" text-anchor="start" textLength="78" lengthAdjust="spacingAndGlyphs" stroke="#262626" stroke-width="0.2">ул. Гагарина</text>
<text transform="translate(975.5,610) rotate(90)" x="0" y="0" font-family="Liberation Serif, serif" font-size="12.3" font-weight="normal" fill="#262626" text-anchor="start" textLength="83" lengthAdjust="spacingAndGlyphs" stroke="#262626" stroke-width="0.2">ул. Чайковского</text>
<text transform="translate(1275.5,661) rotate(90)" x="0" y="0" font-family="Liberation Serif, serif" font-size="14.36" font-weight="normal" fill="#262626" text-anchor="start" textLength="75" lengthAdjust="spacingAndGlyphs" stroke="#262626" stroke-width="0.2">ул. Горького</text>
<text transform="translate(1280.5,819) rotate(90)" x="0" y="0" font-family="Liberation Serif, serif" font-size="13.88" font-weight="normal" fill="#262626" text-anchor="start" textLength="72.5" lengthAdjust="spacingAndGlyphs" stroke="#262626" stroke-width="0.2">ул. Горького</text>
<text transform="translate(1168,834) rotate(90)" x="0" y="0" font-family="Liberation Serif, serif" font-size="11.41" font-weight="normal" fill="#262626" text-anchor="start" textLength="72.5" lengthAdjust="spacingAndGlyphs" stroke="#262626" stroke-width="0.2">ул. Воровского</text>
<text transform="translate(1236,961.6) rotate(90)" x="0" y="0" font-family="Liberation Serif, serif" font-size="11.2" font-weight="normal" fill="#262626" text-anchor="start" textLength="51" lengthAdjust="spacingAndGlyphs" stroke="#262626" stroke-width="0.2">ул. Поярко</text>
<text transform="translate(443,388) rotate(43.83)" x="0" y="0" font-family="Liberation Serif, serif" font-size="9.23" font-weight="normal" fill="#262626" text-anchor="start" textLength="69.3" lengthAdjust="spacingAndGlyphs" stroke="#262626" stroke-width="0.2">ул. Санаторная</text>
<text transform="translate(511,546) rotate(45.86)" x="0" y="0" font-family="Liberation Serif, serif" font-size="11.52" font-weight="normal" fill="#262626" text-anchor="start" textLength="94.8" lengthAdjust="spacingAndGlyphs" stroke="#262626" stroke-width="0.2">ул. Виноградная</text>
<text transform="translate(1192,329) rotate(-46.19)" x="0" y="0" font-family="Liberation Serif, serif" font-size="8.23" font-weight="normal" fill="#262626" text-anchor="start" textLength="67.9" lengthAdjust="spacingAndGlyphs" stroke="#262626" stroke-width="0.2">ул. Пригородная</text>
<text transform="translate(1106,373) rotate(44.22)" x="0" y="0" font-family="Liberation Serif, serif" font-size="12.5" font-weight="normal" fill="#262626" text-anchor="start" textLength="103.2" lengthAdjust="spacingAndGlyphs" stroke="#262626" stroke-width="0.2">ул. Пластунская</text>
<text transform="translate(892,491) rotate(46.06)" x="0" y="0" font-family="Liberation Serif, serif" font-size="9.62" font-weight="normal" fill="#262626" text-anchor="start" textLength="76.4" lengthAdjust="spacingAndGlyphs" stroke="#262626" stroke-width="0.2">ул. Чайковского</text>
<text transform="translate(877,513) rotate(45.52)" x="0" y="0" font-family="Liberation Serif, serif" font-size="13.46" font-weight="normal" fill="#262626" text-anchor="start" textLength="78.5" lengthAdjust="spacingAndGlyphs" stroke="#262626" stroke-width="0.2">Хлебозавод</text>
<text transform="translate(880,584) rotate(45.0)" x="0" y="0" font-family="Liberation Serif, serif" font-size="13.66" font-weight="normal" fill="#262626" text-anchor="start" textLength="55.2" lengthAdjust="spacingAndGlyphs" stroke="#262626" stroke-width="0.2">м-н Быт</text>
<text transform="translate(881,644) rotate(45.0)" x="0" y="0" font-family="Liberation Serif, serif" font-size="13.69" font-weight="normal" fill="#262626" text-anchor="start" textLength="72.1" lengthAdjust="spacingAndGlyphs" stroke="#262626" stroke-width="0.2">к/т Родина</text>
<text transform="translate(872,686) rotate(43.45)" x="0" y="0" font-family="Liberation Serif, serif" font-size="12.54" font-weight="normal" fill="#262626" text-anchor="start" textLength="78.5" lengthAdjust="spacingAndGlyphs" stroke="#262626" stroke-width="0.2">ул. Гагарина</text>
<text transform="translate(904,861) rotate(-45.0)" x="0" y="0" font-family="Liberation Serif, serif" font-size="11.29" font-weight="normal" fill="#262626" text-anchor="start" textLength="70.7" lengthAdjust="spacingAndGlyphs" stroke="#262626" stroke-width="0.2">ул. Гагарина</text>
<text transform="translate(760,719.5) rotate(44.58)" x="0" y="0" font-family="Liberation Serif, serif" font-size="9.5" font-weight="normal" fill="#262626" text-anchor="start" textLength="96.9" lengthAdjust="spacingAndGlyphs" stroke="#262626" stroke-width="0.2">ул. Красноармейская</text>
<text transform="translate(851,859) rotate(44.46)" x="0" y="0" font-family="Liberation Serif, serif" font-size="13.26" font-weight="normal" fill="#262626" text-anchor="start" textLength="75.7" lengthAdjust="spacingAndGlyphs" stroke="#262626" stroke-width="0.2">ул. Егорова</text>
<text transform="translate(1204,570) rotate(43.88)" x="0" y="0" font-family="Liberation Serif, serif" font-size="11.74" font-weight="normal" fill="#262626" text-anchor="start" textLength="72.1" lengthAdjust="spacingAndGlyphs" stroke="#262626" stroke-width="0.2">ул. Горького</text>
</svg></body></html>
